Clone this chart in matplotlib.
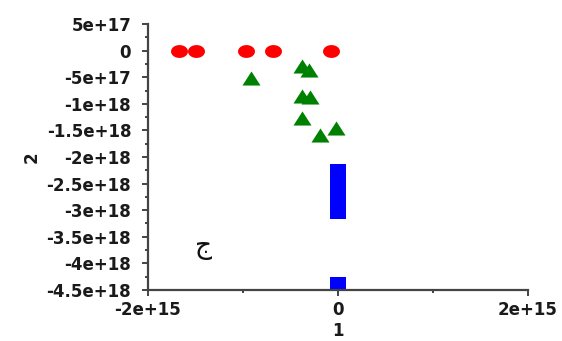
import numpy as np
import matplotlib
matplotlib.use("Agg")
import matplotlib.pyplot as plt
from matplotlib.path import Path
from matplotlib.ticker import MultipleLocator

# Series values (x in units of 1, y in units of 2)
red_x = [-1.67e15, -1.49e15, -0.97e15, -0.68e15, -0.07e15]
red_y = [0.0, 0.0, 0.0, 0.0, 0.0]

green_x = [-0.91e15, -0.38e15, -0.30e15, -0.38e15, -0.29e15, -0.38e15, -0.19e15, -0.02e15]
green_y = [-5.1e17, -2.9e17, -3.7e17, -8.5e17, -8.7e17, -1.26e18, -1.59e18, -1.46e18]

blue_x = [0.0] * 12
blue_y = [-2.25e18, -2.35e18, -2.45e18, -2.55e18, -2.65e18, -2.75e18, -2.85e18,
          -2.95e18, -3.05e18, -4.36e18, -4.45e18, -4.55e18]

x_label = "1"
y_label = "2"
note_text = "ج"

# Slightly wide marker shapes
theta = np.linspace(0, 2 * np.pi, 60)
ellipse = Path(np.column_stack([np.cos(theta), 0.76 * np.sin(theta)]), closed=True)
tri = Path([(0, 0.78), (-1, -0.78), (1, -0.78), (0, 0.78)], closed=True)
rect = Path([(-1, -0.75), (1, -0.75), (1, 0.75), (-1, 0.75), (-1, -0.75)], closed=True)

plt.rcParams['font.family'] = ['DejaVu Sans']
fig = plt.figure(figsize=(5.62, 3.41), dpi=100)
ax = fig.add_axes([0.263, 0.1496, 0.9395 - 0.263, 0.9296 - 0.1496])

ax.plot(blue_x, blue_y, linestyle='none', marker=rect, markersize=11.5,
        color='#0000ff', markeredgewidth=0)
ax.plot(green_x, green_y, linestyle='none', marker=tri, markersize=13,
        color='#008000', markeredgewidth=0)
ax.plot(red_x, red_y, linestyle='none', marker=ellipse, markersize=12.2,
        color='#ff0000', markeredgewidth=0)

ax.set_xlim(-2e15, 2e15)
ax.set_ylim(-4.5e18, 5e17)

ax.xaxis.set_major_locator(MultipleLocator(2e15))
ax.xaxis.set_minor_locator(MultipleLocator(1e15))
ax.yaxis.set_major_locator(MultipleLocator(5e17))
ax.yaxis.set_minor_locator(MultipleLocator(2.5e17))

def sci(v):
    if v == 0:
        return "0"
    m, e = f"{v:e}".split("e")
    ms = f"{float(m):g}"
    return f"{ms}e+{int(e)}"

xt = [-2e15, 0, 2e15]
ax.set_xticks(xt)
ax.set_xticklabels([sci(v) for v in xt])
yt = [5e17, 0, -5e17, -1e18, -1.5e18, -2e18, -2.5e18, -3e18, -3.5e18, -4e18, -4.5e18]
ax.set_yticks(yt)
ax.set_yticklabels([sci(v) for v in yt])

for s in ['top', 'right']:
    ax.spines[s].set_visible(False)
for s in ['left', 'bottom']:
    ax.spines[s].set_color('#444444')
    ax.spines[s].set_linewidth(1.6)

ax.tick_params(axis='both', which='major', length=4, width=1.4, color='#444444',
               labelsize=12, labelcolor='#1a1a1a')
ax.tick_params(axis='both', which='minor', length=2.5, width=1.4, color='#444444')
ax.tick_params(axis='y', which='major', pad=8)
ax.tick_params(axis='x', which='major', pad=4)
for lbl in ax.get_xticklabels() + ax.get_yticklabels():
    lbl.set_fontweight('bold')

ax.set_xlabel(x_label, fontsize=12, fontweight='bold', color='#1a1a1a', labelpad=2)
ax.set_ylabel(y_label, fontsize=12, fontweight='bold', color='#1a1a1a', labelpad=4)

ax.text(-1.41e15, -3.7e18, note_text, fontsize=19, color='#111111',
        ha='center', va='center', family=['DejaVu Sans'])

fig.savefig("out.png", dpi=100)
